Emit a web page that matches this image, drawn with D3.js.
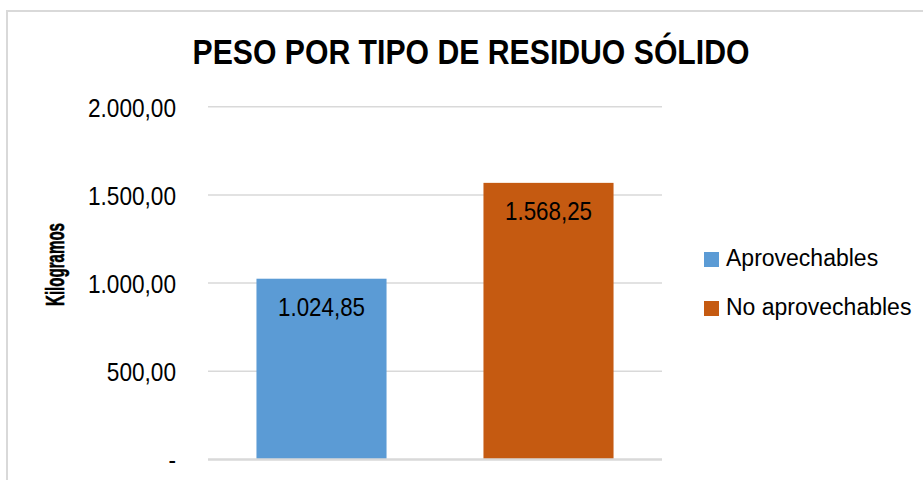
<!DOCTYPE html>
<html>
<head>
<meta charset="utf-8">
<script src="https://cdn.jsdelivr.net/npm/d3@7"></script>
<style>
  body { margin: 0; background: #fff; }
  svg { display: block; }
  .narrow { font-family: "Liberation Sans Narrow", "Arial Narrow", "Liberation Sans", Arial, sans-serif; }
  .reg { font-family: "Liberation Sans", Arial, sans-serif; }
</style>
</head>
<body>
<svg id="chart" width="923" height="480"></svg>
<script>
const categories = ["Aprovechables", "No aprovechables"];
const values = [1024.85, 1568.25];
const colors = ["#5b9bd5", "#c55a11"];
const yTicks = [0, 500, 1000, 1500, 2000];

const svg = d3.select("#chart");
const width = 923, height = 480;

const es = d3.formatLocale({ decimal: ",", thousands: ".", grouping: [3], currency: ["", ""] });
const fmt = es.format(",.2f");

// chart border (cut off on right and bottom like the source)
svg.append("rect")
  .attr("x", 7).attr("y", 11)
  .attr("width", 940).attr("height", 500)
  .attr("fill", "none").attr("stroke", "#d9d9d9").attr("stroke-width", 2);

const x = d3.scaleBand().domain(categories).range([208, 662])
  .paddingInner(0.427).paddingOuter(0.2135);
const y = d3.scaleLinear().domain([0, 2000]).range([459.5, 106.7]);

// gridlines
svg.append("g").selectAll("line")
  .data(yTicks.filter(d => d > 0))
  .join("line")
    .attr("x1", 208).attr("x2", 662)
    .attr("y1", d => y(d)).attr("y2", d => y(d))
    .attr("stroke", "#d9d9d9").attr("stroke-width", 1.5);

// y axis labels (condensed like the source)
const yAxis = d3.axisLeft(y).tickValues(yTicks).tickSize(0).tickPadding(0)
  .tickFormat(d => d === 0 ? "-" : fmt(d));
svg.append("g")
  .attr("transform", "translate(176,0)")
  .call(yAxis)
  .call(g => g.select(".domain").remove())
  .call(g => g.selectAll("text")
    .attr("class", "narrow")
    .attr("font-size", 26)
    .attr("fill", "#000")
    .attr("dy", "0.36em")
    .attr("transform", "scale(0.87,1)"));

// bars
svg.append("g").selectAll("rect")
  .data(values)
  .join("rect")
    .attr("x", (d, i) => x(categories[i]))
    .attr("width", x.bandwidth())
    .attr("y", d => y(d))
    .attr("height", d => y(0) - y(d))
    .attr("fill", (d, i) => colors[i]);

// baseline
svg.append("line")
  .attr("x1", 208).attr("x2", 662)
  .attr("y1", y(0)).attr("y2", y(0))
  .attr("stroke", "#d9d9d9").attr("stroke-width", 2.5);

// data labels inside bars
svg.append("g").selectAll("text")
  .data(values)
  .join("text")
    .attr("class", "narrow")
    .attr("x", (d, i) => x(categories[i]) + x.bandwidth() / 2)
    .attr("y", d => y(d) + 37)
    .attr("text-anchor", "middle")
    .attr("font-size", 26)
    .attr("textLength", 87).attr("lengthAdjust", "spacingAndGlyphs")
    .attr("fill", "#000")
    .text(d => fmt(d));

// title
svg.append("text")
  .attr("class", "narrow")
  .attr("x", 471).attr("y", 64)
  .attr("text-anchor", "middle")
  .attr("font-size", 35).attr("font-weight", "bold")
  .attr("textLength", 557).attr("lengthAdjust", "spacingAndGlyphs")
  .text("PESO POR TIPO DE RESIDUO SÓLIDO");

// y axis title
svg.append("text")
  .attr("class", "narrow")
  .attr("transform", "translate(64,264.5) rotate(-90)")
  .attr("text-anchor", "middle")
  .attr("font-size", 25).attr("font-weight", "bold")
  .attr("stroke", "#000").attr("stroke-width", 0.6)
  .attr("textLength", 83).attr("lengthAdjust", "spacingAndGlyphs")
  .text("Kilogramos");

// legend
const legend = svg.append("g").selectAll("g")
  .data(categories)
  .join("g")
    .attr("transform", (d, i) => `translate(704,${252 + i * 49})`);
legend.append("rect")
  .attr("width", 15).attr("height", 15)
  .attr("fill", (d, i) => colors[i]);
legend.append("text")
  .attr("class", "reg")
  .attr("x", 22).attr("y", 14)
  .attr("font-size", 23)
  .attr("fill", "#000")
  .text(d => d);
</script>
</body>
</html>
